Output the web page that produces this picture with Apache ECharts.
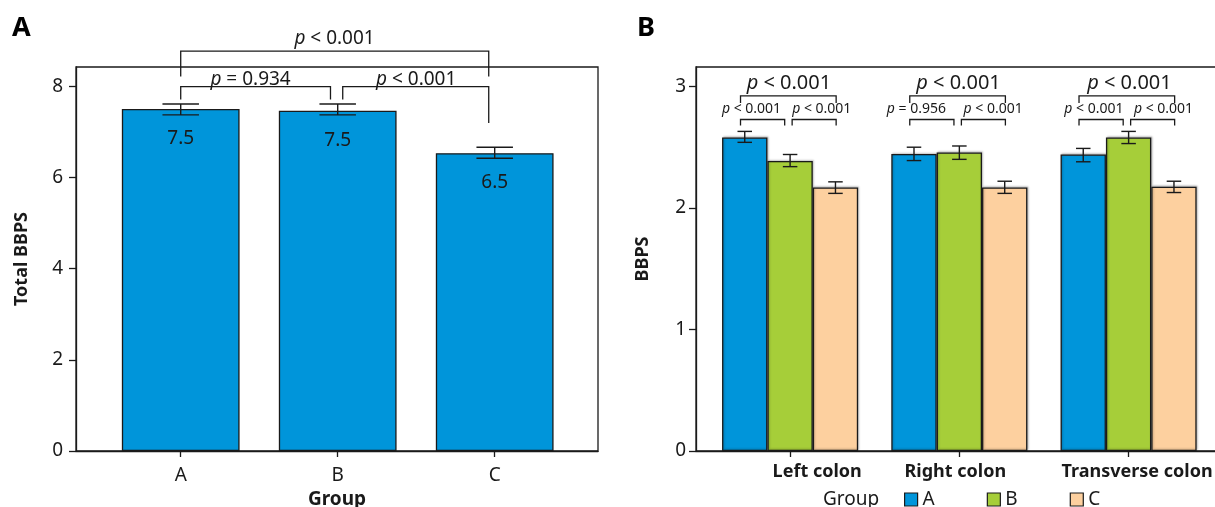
<!DOCTYPE html>
<html><head><meta charset="utf-8">
<script src="https://cdn.jsdelivr.net/npm/echarts@6/dist/echarts.min.js"></script>
<style>html,body{margin:0;padding:0;background:#fff}#c{width:1215px;height:507px}</style>
</head><body><div id="c"></div>
<script>
// ---------- Panel A data ----------
const groupsA = ['A', 'B', 'C'];
const totalMean = [7.50, 7.46, 6.53];
const totalLo = [7.37, 7.37, 6.42];
const totalHi = [7.61, 7.61, 6.66];
const ticksA = [0, 2, 4, 6, 8];

// ---------- Panel B data ----------
const segments = ['Left colon', 'Right colon', 'Transverse colon'];
const seriesNames = ['A', 'B', 'C'];
const meanA = [2.58, 2.445, 2.44];
const loA = [2.54, 2.39, 2.38];
const hiA = [2.63, 2.50, 2.49];
const meanB = [2.387, 2.456, 2.58];
const loB = [2.34, 2.40, 2.53];
const hiB = [2.44, 2.51, 2.63];
const meanC = [2.169, 2.169, 2.174];
const loC = [2.12, 2.12, 2.127];
const hiC = [2.215, 2.22, 2.22];
const ticksB = [0, 1, 2, 3];

// ---------- significance annotations (data units) ----------
const bracketsA = [
  { x1: 0, x2: 0.954, y: 7.99, yl: 7.71, yr: 7.71, t: '{i|p}{n| = 0.934}', tx: 0.445, ty: 8.15 },
  { x1: 1.032, x2: 1.962, y: 7.99, yl: 7.71, yr: 7.19, t: '{i|p}{n| < 0.001}', tx: 1.50, ty: 8.15 },
  { x1: 0, x2: 1.962, y: 8.77, yl: 8.21, yr: 8.21, t: '{i|p}{n| < 0.001}', tx: 0.98, ty: 9.05 }
];
const bracketsB = [
  { x1: -0.293, x2: 0.272, y: 2.922, yl: 2.864, yr: 2.864, t: '{i|p}{n| < 0.001}', tx: -0.007, ty: 3.03, big: true },
  { x1: -0.293, x2: -0.032, y: 2.728, yl: 2.678, yr: 2.678, t: '{i|p}{n| < 0.001}', tx: -0.228, ty: 2.815 },
  { x1: 0.012, x2: 0.272, y: 2.728, yl: 2.678, yr: 2.678, t: '{i|p}{n| < 0.001}', tx: 0.187, ty: 2.815 },
  { x1: 0.707, x2: 1.272, y: 2.922, yl: 2.864, yr: 2.864, t: '{i|p}{n| < 0.001}', tx: 0.995, ty: 3.03, big: true },
  { x1: 0.707, x2: 0.968, y: 2.728, yl: 2.678, yr: 2.678, t: '{i|p}{n| = 0.956}', tx: 0.746, ty: 2.815 },
  { x1: 1.012, x2: 1.272, y: 2.728, yl: 2.678, yr: 2.678, t: '{i|p}{n| < 0.001}', tx: 1.20, ty: 2.815 },
  { x1: 1.707, x2: 2.272, y: 2.922, yl: 2.864, yr: 2.864, t: '{i|p}{n| < 0.001}', tx: 2.005, ty: 3.03, big: true },
  { x1: 1.707, x2: 1.968, y: 2.728, yl: 2.678, yr: 2.678, t: '{i|p}{n| < 0.001}', tx: 1.795, ty: 2.815 },
  { x1: 2.012, x2: 2.272, y: 2.728, yl: 2.678, yr: 2.678, t: '{i|p}{n| < 0.001}', tx: 2.206, ty: 2.815 }
];
const segLabelShift = [0.16, -0.024, 0.05];

// ---------- styles ----------
const FONT = 'Noto Sans';
const INK = '#1a1a1a';
const colors = ['#0095da', '#a6ce39', '#fdd09f'];

function bracketRender(list, bigSize, smallSize) {
  return function (params, api) {
    const b = list[params.dataIndex];
    const pts = [api.coord([b.x1, b.yl]), api.coord([b.x1, b.y]), api.coord([b.x2, b.y]), api.coord([b.x2, b.yr])];
    const tp = api.coord([b.tx, b.ty]);
    const fs = b.big ? bigSize : smallSize;
    return {
      type: 'group',
      children: [
        { type: 'polyline', shape: { points: pts }, style: { stroke: INK, lineWidth: 1.3, fill: null } },
        { type: 'text', x: tp[0], y: tp[1], style: {
          text: b.t, align: 'center', verticalAlign: 'middle',
          rich: {
            i: { fontStyle: 'italic', fontSize: fs, fontFamily: FONT, fill: INK },
            n: { fontSize: fs, fontFamily: FONT, fill: INK }
          }
        } }
      ]
    };
  };
}

function errRender(nSeries, idx, barFrac, capFrac) {
  return function (params, api) {
    const x = api.value(0), lo = api.value(1), hi = api.value(2);
    const unit = api.size([1, 0])[0];
    const bw = unit * barFrac;
    const off = (idx - (nSeries - 1) / 2) * bw;
    const pl = api.coord([x, lo]), ph = api.coord([x, hi]);
    const cx = pl[0] + off, hw = bw * capFrac / 2;
    const st = { stroke: INK, lineWidth: 1.4 };
    return { type: 'group', children: [
      { type: 'line', shape: { x1: cx, y1: pl[1], x2: cx, y2: ph[1] }, style: st },
      { type: 'line', shape: { x1: cx - hw, y1: pl[1], x2: cx + hw, y2: pl[1] }, style: st },
      { type: 'line', shape: { x1: cx - hw, y1: ph[1], x2: cx + hw, y2: ph[1] }, style: st }
    ] };
  };
}

const lineSt = { color: INK, width: 1.3 };

const meansB = [meanA, meanB, meanC];
const losB = [loA, loB, loC];
const hisB = [hiA, hiB, hiC];

const series = [];
// Panel A bars
series.push({
  type: 'bar', xAxisIndex: 0, yAxisIndex: 0, barWidth: '75%',
  data: totalMean.map((v, i) => [i, v]),
  itemStyle: { color: colors[0], borderColor: INK, borderWidth: 1.3 },
  label: { show: true, position: 'insideTop', distance: 20, fontSize: 19, fontFamily: FONT, color: INK,
    formatter: p => p.value[1].toFixed(1) },
  silent: true
});
series.push({
  type: 'custom', xAxisIndex: 0, yAxisIndex: 0, z: 5,
  renderItem: errRender(1, 0, 0.75, 0.31),
  data: totalMean.map((v, i) => [i, totalLo[i], totalHi[i]]),
  encode: { x: 0, y: [1, 2] }, silent: true
});
series.push({
  type: 'custom', xAxisIndex: 0, yAxisIndex: 0, z: 6, clip: false,
  renderItem: bracketRender(bracketsA, 19, 19),
  data: bracketsA.map(b => [b.x1, b.y]),
  encode: { x: 0, y: 1 }, silent: true
});
// Panel B bars
seriesNames.forEach((nm, k) => {
  series.push({
    type: 'bar', name: nm, xAxisIndex: 1, yAxisIndex: 1, barWidth: '26.8%', barGap: '0%',
    data: meansB[k].map((v, i) => [i, v]),
    itemStyle: { color: colors[k], borderColor: INK, borderWidth: 1.3,
      shadowColor: 'rgba(0,0,0,0.22)', shadowBlur: 2, shadowOffsetX: 1, shadowOffsetY: -1 },
    silent: true
  });
});
seriesNames.forEach((nm, k) => {
  series.push({
    type: 'custom', xAxisIndex: 1, yAxisIndex: 1, z: 5,
    renderItem: errRender(3, k, 0.268, 0.32),
    data: meansB[k].map((v, i) => [i, losB[k][i], hisB[k][i]]),
    encode: { x: 0, y: [1, 2] }, silent: true
  });
});
series.push({
  type: 'custom', xAxisIndex: 1, yAxisIndex: 1, z: 6, clip: false,
  renderItem: bracketRender(bracketsB, 20, 14),
  data: bracketsB.map(b => [b.x1, b.y]),
  encode: { x: 0, y: 1 }, silent: true
});

const option = {
  animation: false,
  backgroundColor: '#fff',
  textStyle: { fontFamily: FONT, color: INK },
  title: [
    { text: 'A', left: 7, top: 10, textStyle: { fontSize: 27, fontWeight: 'bold', fontFamily: FONT, color: '#000' } },
    { text: 'B', left: 632, top: 10, textStyle: { fontSize: 27, fontWeight: 'bold', fontFamily: FONT, color: '#000' } },
    { text: 'Group', left: 818, top: 485, textStyle: { fontSize: 19, fontWeight: 'normal', fontFamily: FONT, color: INK } }
  ],
  legend: {
    data: seriesNames, left: 899, top: 485, icon: 'rect', itemWidth: 13, itemHeight: 13, itemGap: 52,
    textStyle: { fontSize: 19, fontFamily: FONT, color: INK },
    itemStyle: { borderColor: INK, borderWidth: 1.2 }, selectedMode: false
  },
  grid: [
    { left: 76, top: 67, width: 522, height: 384, show: true, borderColor: INK, borderWidth: 1.3,
      containLabel: false, outerBoundsMode: 'none' },
    { left: 696, top: 67, width: 524, height: 384, show: true, borderColor: INK, borderWidth: 1.3,
      containLabel: false, outerBoundsMode: 'none' }
  ],
  xAxis: [
    { type: 'value', gridIndex: 0, min: -0.667, max: 2.658,
      name: 'Group', nameLocation: 'middle', nameGap: 36,
      nameTextStyle: { fontSize: 19, fontWeight: 'bold', fontFamily: FONT, color: INK },
      axisLine: { onZero: false, lineStyle: lineSt }, splitLine: { show: false },
      axisTick: { show: true, length: 6, customValues: [0, 1, 2], lineStyle: lineSt },
      axisLabel: { customValues: [0, 1, 2], margin: 15, fontSize: 19, fontFamily: FONT, color: INK,
        formatter: v => groupsA[Math.round(v)] } },
    { type: 'value', gridIndex: 1, min: -0.556, max: 2.54,
      axisLine: { onZero: false, lineStyle: lineSt }, splitLine: { show: false },
      axisTick: { show: true, length: 6, customValues: [0, 1, 2], lineStyle: lineSt },
      axisLabel: { customValues: segments.map((s, i) => i + segLabelShift[i]), margin: 12, fontSize: 18,
        fontWeight: 'bold', fontFamily: FONT, color: INK,
        formatter: v => segments[Math.round(v)] } }
  ],
  yAxis: [
    { type: 'value', gridIndex: 0, min: 0, max: 8.42,
      name: 'Total BBPS', nameLocation: 'middle', nameGap: 45,
      nameTextStyle: { fontSize: 18, fontWeight: 'bold', fontFamily: FONT, color: INK },
      axisLine: { show: true, onZero: false, lineStyle: lineSt }, splitLine: { show: false },
      axisTick: { show: true, length: 7, customValues: ticksA, lineStyle: lineSt },
      axisLabel: { customValues: ticksA, margin: 13, fontSize: 19, fontFamily: FONT, color: INK } },
    { type: 'value', gridIndex: 1, min: 0, max: 3.16,
      name: 'BBPS', nameLocation: 'middle', nameGap: 44,
      nameTextStyle: { fontSize: 18, fontWeight: 'bold', fontFamily: FONT, color: INK },
      axisLine: { show: true, onZero: false, lineStyle: lineSt }, splitLine: { show: false },
      axisTick: { show: true, length: 7, customValues: ticksB, lineStyle: lineSt },
      axisLabel: { customValues: ticksB, margin: 10, fontSize: 19, fontFamily: FONT, color: INK } }
  ],
  series: series
};

const chart = echarts.init(document.getElementById('c'), null, { renderer: 'canvas' });
chart.setOption(option);
</script>
</body></html>
